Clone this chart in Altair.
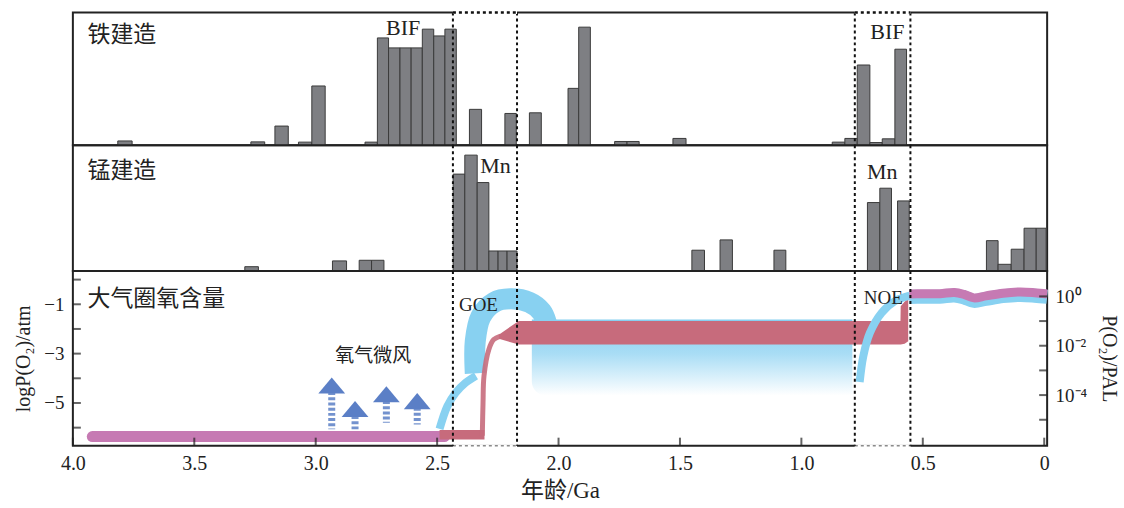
import altair as alt
import pandas as pd

# ---------------- data ----------------
# Iron formations (铁建造): bin edges in Ga (older, younger) and relative abundance (% of panel height)
fe_old = [3.815, 3.267, 3.168, 3.071, 3.016, 2.797, 2.746, 2.700, 2.653, 2.607, 2.561, 2.514, 2.468,
          2.367, 2.221, 2.120, 1.961, 1.917, 1.769, 1.718, 1.529, 0.873, 0.821, 0.770, 0.718, 0.667, 0.615]
fe_young = [3.756, 3.210, 3.113, 3.016, 2.961, 2.746, 2.700, 2.653, 2.607, 2.561, 2.514, 2.468, 2.421,
            2.317, 2.174, 2.071, 1.917, 1.869, 1.718, 1.668, 1.475, 0.821, 0.770, 0.718, 0.667, 0.615, 0.567]
fe_value = [3.2, 2.5, 14.4, 2.3, 44.6, 2.3, 80.8, 73.3, 73.3, 73.3, 87.4, 82.3, 87.4,
            27.0, 23.9, 24.4, 42.8, 88.9, 2.8, 2.8, 5.1, 2.3, 5.1, 60.4, 2.0, 4.8, 72.3]

# Manganese formations (锰建造)
mn_old = [3.292, 2.931, 2.821, 2.770, 2.434, 2.386, 2.335, 2.287, 2.249, 2.212, 1.451, 1.335, 1.113,
          0.728, 0.677, 0.604, 0.238, 0.190, 0.136, 0.083, 0.033]
mn_young = [3.236, 2.873, 2.770, 2.719, 2.386, 2.335, 2.287, 2.249, 2.212, 2.171, 1.399, 1.284, 1.064,
            0.677, 0.629, 0.556, 0.190, 0.136, 0.083, 0.033, -0.008]
mn_value = [3.4, 8.0, 8.5, 8.5, 77.0, 92.1, 70.3, 15.9, 15.9, 15.9, 16.5, 24.7, 16.5,
            54.4, 65.8, 55.7, 24.1, 5.3, 17.3, 34.0, 34.0]

# event boundaries (Ga)
goe_bounds = [2.435, 2.171]
noe_bounds = [0.780, 0.551]

# atmospheric oxygen, logP(O2)/atm
pink_age = [3.92, 2.47]
pink_logp = [-6.36, -6.36]

red_low_age = [2.49, 2.305]
red_low_bot = [-6.48, -6.48]
red_low_top = [-6.10, -6.10]

red_band_age = [2.246, 2.164, 0.592, 0.591, 0.575, 0.560]
red_band_bot = [-2.40, -2.63, -2.63, -2.63, -2.60, -2.50]
red_band_top = [-2.23, -1.68, -1.68, -1.08, -0.90, -0.78]

red_rise_age = [2.314, 2.311, 2.307, 2.287, 2.267, 2.239]
red_rise_logp = [-6.33, -5.00, -3.91, -2.83, -2.43, -2.29]

goe_arc_age = [2.490, 2.458, 2.424, 2.383, 2.340]
goe_arc_logp = [-6.05, -5.13, -4.59, -4.18, -3.90]

goe_arch_age = [2.343, 2.343, 2.320, 2.265, 2.200, 2.120, 2.070, 2.050, 2.045]
goe_arch_logp = [-3.80, -2.50, -1.50, -0.92, -0.78, -0.92, -1.30, -1.75, -2.10]

noe_arc_age = [0.760, 0.745, 0.718, 0.670, 0.615, 0.554]
noe_arc_logp = [-4.15, -3.10, -2.16, -1.35, -0.87, -0.65]

top_age = [0.556, 0.50, 0.43, 0.37, 0.33, 0.29, 0.24, 0.17, 0.10, 0.04, -0.012]
top_logp = [-0.58, -0.57, -0.57, -0.52, -0.60, -0.74, -0.66, -0.55, -0.50, -0.53, -0.58]

shade_age = [2.11, 0.79]
shade_top = -1.62
shade_bot = -4.70

# oxygen whiffs (氧气微风) arrows
arrow_age = [2.934, 2.838, 2.709, 2.582]
arrow_head = [-4.29, -5.245, -4.65, -4.925]
arrow_base = [-4.56, -5.53, -4.92, -5.19]
arrow_foot = [-6.07, -6.07, -5.80, -5.87]

x_ticks = [4.0, 3.5, 3.0, 2.5, 2.0, 1.5, 1.0, 0.5, 0.0]
logp_ticks = [0, -1, -2, -3, -4, -5, -6]
pal_ticks = [0, -1, -2, -3, -4, -5]
pal_shift = 0.68  # log10(0.21 atm)

# ---------------- styling ----------------
SERIF = "Liberation Serif, Noto Sans CJK SC"
CJK = "Noto Sans CJK SC"
INK = "#222222"
BLUE = "#88d1f1"
RED = "#c76b7c"
PINK = "#c67ab3"
ARROW = "#5b7fc6"
X_DOMAIN = [4.0, -0.012]
W = 976

xs = alt.Scale(domain=X_DOMAIN, nice=False, zero=False)
box_df = pd.DataFrame({"a0": [goe_bounds[0], noe_bounds[0]], "a1": [goe_bounds[1], noe_bounds[1]]})


def rules_layer():
    df = pd.DataFrame({"age": goe_bounds + noe_bounds})
    return alt.Chart(df).mark_rule(color="#111111", strokeWidth=2, strokeDash=[3, 3]).encode(
        x=alt.X("age:Q", scale=xs, axis=None))


def bar_panel(old, young, value, labels, height, top_box=False):
    df = pd.DataFrame({"old": old, "young": young, "value": value, "zero": 0})
    ys = alt.Scale(domain=[0, 100], nice=False, zero=False)
    bars = alt.Chart(df).mark_rect(fill="#7e7f83", stroke="#3a3a3a", strokeWidth=1).encode(
        x=alt.X("old:Q", scale=xs, axis=None), x2="young:Q",
        y=alt.Y("value:Q", scale=ys, axis=None), y2="zero:Q")
    ldf = pd.DataFrame(labels)
    txt = []
    for font, size, align in [(CJK, 23, "left"), (SERIF, 22, "center")]:
        sub = ldf[ldf["font"] == font]
        txt.append(alt.Chart(sub).mark_text(font=font, fontSize=size, align=align, baseline="middle",
                                             color=INK).encode(
            x=alt.X("age:Q", scale=xs, axis=None), y=alt.Y("v:Q", scale=ys, axis=None), text="t:N"))
    layers = [bars, rules_layer()] + txt
    if top_box:
        bdf = box_df.assign(v=100)
        enc = dict(x=alt.X("a0:Q", scale=xs, axis=None), x2="a1:Q", y=alt.Y("v:Q", scale=ys, axis=None))
        layers.append(alt.Chart(bdf).mark_rule(color="white", strokeWidth=3).encode(**enc))
        layers.append(alt.Chart(bdf).mark_rule(color="#111111", strokeWidth=2.5,
                                               strokeDash=[3, 3]).encode(**enc))
    return alt.layer(*layers).properties(width=W, height=height)


fe_chart = bar_panel(fe_old, fe_young, fe_value, {
    "t": ["铁建造", "BIF", "BIF"], "age": [3.94, 2.640, 0.646], "v": [83.1, 88.1, 84.9],
    "font": [CJK, SERIF, SERIF]}, 133, top_box=True)
mn_chart = bar_panel(mn_old, mn_young, mn_value, {
    "t": ["锰建造", "Mn", "Mn"], "age": [3.94, 2.26, 0.667], "v": [79.6, 83.6, 78.3],
    "font": [CJK, SERIF, SERIF]}, 126)

# ---------------- bottom panel ----------------
Y_DOMAIN = [-6.73, 0.35]
ys_b = alt.Scale(domain=Y_DOMAIN, nice=False, zero=False)
x_axis = alt.Axis(values=x_ticks, labelExpr="datum.value == 0 ? '0' : format(datum.value, '.1f')",
                  ticks=False, domain=False, grid=False, labelFont=SERIF, labelFontSize=20,
                  labelColor=INK, labelPadding=8, title="年龄/Ga", titleFont=SERIF, titleFontSize=23,
                  titleFontWeight="normal", titleColor=INK, titlePadding=6, labelFlush=False)
y_axis = alt.Axis(values=[-1, -3, -5], labelExpr="'−' + format(abs(datum.value), 'd')",
                  ticks=False, domain=False, grid=False, labelFont=SERIF, labelFontSize=19,
                  labelColor=INK, labelPadding=9, title="logP(O₂)/atm", titleFont=SERIF,
                  titleFontSize=20, titleFontWeight="normal", titleColor=INK, titlePadding=10)


def X(f):
    return alt.X(f"{f}:Q", scale=xs, axis=x_axis)


def Y(f):
    return alt.Y(f"{f}:Q", scale=ys_b, axis=y_axis)


def line(ages, vals, color, width, cap="butt", **kw):
    df = pd.DataFrame({"age": ages, "logp": vals, "i": list(range(len(ages)))})
    return alt.Chart(df).mark_line(color=color, strokeWidth=width, strokeCap=cap,
                                   interpolate="catmull-rom", **kw).encode(
        x=X("age"), y=Y("logp"), order="i:Q")


def band(ages, bot, top, color):
    df = pd.DataFrame({"age": ages, "bot": bot, "top": top})
    return alt.Chart(df).mark_area(color=color, opacity=1, interpolate="linear").encode(
        x=X("age"), y=Y("bot"), y2="top:Q")


grad = alt.Gradient(gradient="linear", x1=0, x2=0, y1=0, y2=1,
                    stops=[alt.GradientStop(color="#86cff0", offset=0),
                           alt.GradientStop(color="#a9ddf5", offset=0.45),
                           alt.GradientStop(color="#ffffff", offset=1)])
shade = alt.Chart(pd.DataFrame({"a0": [shade_age[0]], "a1": [shade_age[1]],
                                "top": [shade_top], "bot": [shade_bot]})).mark_rect(
    color=grad, cornerRadiusBottomLeft=14).encode(x=X("a0"), x2="a1:Q", y=Y("top"), y2="bot:Q")

goe_arch = line(goe_arch_age, goe_arch_logp, BLUE, 21)
goe_arc = line(goe_arc_age, goe_arc_logp, BLUE, 8)
pink = line(pink_age, pink_logp, PINK, 11, cap="round")
red_low = band(red_low_age, red_low_bot, red_low_top, RED)
red_band = band(red_band_age, red_band_bot, red_band_top, RED)
red_rise = line(red_rise_age, red_rise_logp, RED, 5, opacity=0.9)
noe_arc = line(noe_arc_age, noe_arc_logp, BLUE, 8)
top_halo = line(top_age, top_logp, BLUE, 14, yOffset=3)
top_line = line(top_age, top_logp, PINK, 9)

adf = pd.DataFrame({"age": arrow_age, "head": arrow_head, "base": arrow_base, "foot": arrow_foot})
stems = alt.Chart(adf).mark_rule(color=ARROW, strokeWidth=7, strokeDash=[3, 2.2], opacity=0.85).encode(
    x=X("age"), y=Y("base"), y2="foot:Q")
heads = alt.Chart(adf).mark_point(shape="M-1,0.6L0,-0.6L1,0.6Z", size=720, filled=True, color=ARROW,
                                  opacity=1).encode(x=X("age"), y=Y("head"))

bdf = pd.DataFrame({"t": ["大气圈氧含量", "氧气微风", "GOE", "NOE"],
                    "age": [3.94, 2.763, 2.33, 0.663], "logp": [-0.78, -3.10, -1.01, -0.74],
                    "font": [CJK, CJK, SERIF, SERIF], "size": [23, 19, 19, 19]})
btxt = []
for _, r in bdf.iterrows():
    btxt.append(alt.Chart(pd.DataFrame([r])).mark_text(
        font=r["font"], fontSize=int(r["size"]), align="left" if r["t"] == "大气圈氧含量" else "center",
        baseline="middle", color=INK).encode(x=X("age"), y=Y("logp"), text="t:N"))

bdashed = alt.Chart(pd.DataFrame({"age": goe_bounds + noe_bounds})).mark_rule(
    color="#111111", strokeWidth=2, strokeDash=[3, 3]).encode(x=X("age"))
bbox = box_df.assign(v=Y_DOMAIN[0])
bwhite = alt.Chart(bbox).mark_rule(color="white", strokeWidth=3).encode(x=X("a0"), x2="a1:Q", y=Y("v"))
bgray = alt.Chart(bbox).mark_rule(color="#8a8a8a", strokeWidth=1.5, strokeDash=[3, 3]).encode(
    x=X("a0"), x2="a1:Q", y=Y("v"))

xt = alt.Chart(pd.DataFrame({"age": x_ticks, "yb": Y_DOMAIN[0]})).mark_tick(
    orient="vertical", size=8, thickness=2, yOffset=-4, color=INK).encode(x=X("age"), y=Y("yb"))
yt = alt.Chart(pd.DataFrame({"logp": logp_ticks, "xl": X_DOMAIN[0]})).mark_tick(
    orient="horizontal", size=8, thickness=2, xOffset=4, color=INK).encode(x=X("xl"), y=Y("logp"))

left_layers = alt.layer(shade, goe_arc, goe_arch, pink, red_low, red_band, red_rise, noe_arc,
                        top_halo, top_line, stems, heads, bwhite, bgray, bdashed, xt, yt, *btxt)

pal_axis = alt.Axis(orient="right", values=[0, -2, -4],
                    labelExpr="datum.value == 0 ? '10⁰' : (datum.value == -2 ? '10⁻²' : '10⁻⁴')",
                    ticks=False, domain=False, grid=False, labelFont=SERIF, labelFontSize=19,
                    labelColor=INK, labelPadding=8, title="P(O₂)/PAL", titleFont=SERIF,
                    titleFontSize=20, titleFontWeight="normal", titleColor=INK, titleAngle=90,
                    titlePadding=12)
rt = alt.Chart(pd.DataFrame({"pal": pal_ticks, "xr": X_DOMAIN[1]})).mark_tick(
    orient="horizontal", size=8, thickness=2, xOffset=-4, color=INK).encode(
    x=X("xr"),
    y=alt.Y("pal:Q", scale=alt.Scale(domain=[Y_DOMAIN[0] + pal_shift, Y_DOMAIN[1] + pal_shift],
                                     nice=False, zero=False), axis=pal_axis))

ox_chart = alt.layer(left_layers, rt).resolve_scale(y="independent").properties(width=W, height=175)

chart = alt.vconcat(fe_chart, mn_chart, ox_chart, spacing=0, bounds="flush").resolve_scale(
    x="independent", y="independent").properties(
    padding={"left": 12, "top": 9, "right": 4, "bottom": 4}, background="white").configure_view(
    stroke=INK, strokeWidth=2)

chart.save("out.html", embed_options={"renderer": "svg", "actions": False})
